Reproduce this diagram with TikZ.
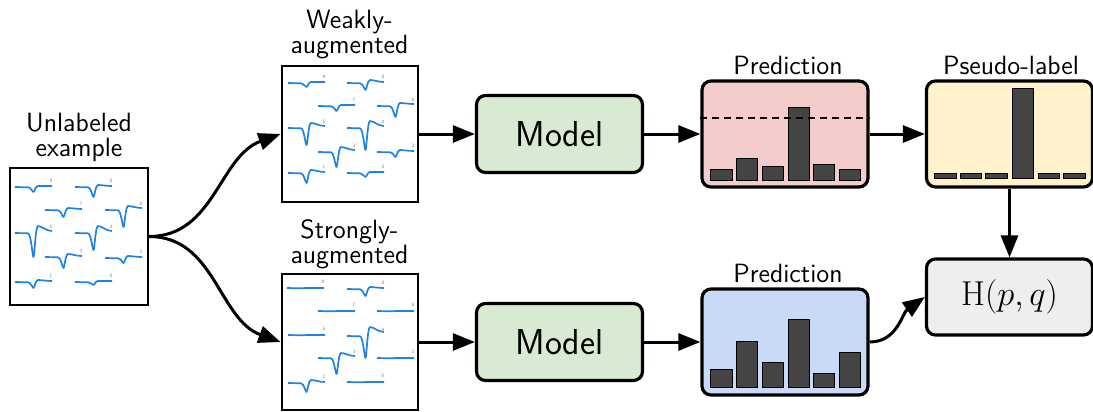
\documentclass[tikz,border=0pt]{standalone}
\usetikzlibrary{arrows.meta}
\renewcommand{\familydefault}{\sfdefault}
\definecolor{ecgblue}{RGB}{30,130,230}
\definecolor{modelgreen}{HTML}{D9EAD3}
\definecolor{predred}{HTML}{F4CCCC}
\definecolor{predblue}{HTML}{C9DAF8}
\definecolor{pseudoyellow}{HTML}{FFF2CC}
\definecolor{lossgray}{HTML}{EEEEEE}
\definecolor{bargray}{HTML}{444444}
\tikzset{
  imgbox/.style={draw=black, line width=1pt, minimum width=68pt, minimum height=68pt, inner sep=0pt},
  rbox/.style={draw=black, line width=1.6pt, rounded corners=4.5pt, minimum width=83pt, inner sep=0pt},
  modelbox/.style={rbox, fill=modelgreen, minimum height=38.5pt, font=\fontsize{18}{20}\selectfont},
  predbox/.style={rbox, minimum height=53pt},
  lossbox/.style={rbox, fill=lossgray, minimum height=38pt, font=\fontsize{19}{21}\selectfont},
  lbl/.style={align=center, inner sep=0pt, font=\fontsize{13.2}{12.5}\selectfont},
  digit/.style={inner sep=0pt, text=gray, font=\fontsize{2.5}{3}\selectfont},
  ecgline/.style={draw=ecgblue, line width=0.85pt, line join=round},
  bar/.style={draw=black, line width=0.5pt, fill=bargray},
  arr/.style={line width=1.5pt, -{Triangle[length=11pt,width=8.5pt]}},
}
\newcommand{\ecgtrace}[7]{% name, x, y, depth, overshoot, end, label
  \begin{scope}[shift={(#2,#3)}]
    \draw[ecgline] (0,0) -- (13,0.3) .. controls (16,0.5) and (17.5,#4) .. (18.5,#4)
      .. controls (19.5,#4) and (20.5,-#5) .. (23,-#5)
      .. controls (27,-#5) and (31,#6) .. (37,#6);
    \node[digit] (#1) at (36,-6) {#7};
  \end{scope}}
\begin{document}
\begin{tikzpicture}[x=0.5pt, y=-0.5pt]
\useasboundingbox (0,0) rectangle (1093,412);

% image boxes
\node[imgbox, minimum width=69pt, minimum height=68.5pt] (unl) at (79,236.5) {};
\node[imgbox] (weak) at (349.5,134) {};
\node[imgbox] (strong) at (349.5,342) {};

\node[lbl] (unllbl) at (79,137.5) {Unlabeled\\example};
\node[lbl] (weaklbl) at (349.5,34.5) {Weakly-\\augmented};
\node[lbl] (stronglbl) at (349.5,244) {Strongly-\\augmented};

% ECG traces: unlabeled
\ecgtrace{u9}{15}{187}{5}{1}{-1}{9}
\ecgtrace{u8}{75}{187}{10}{2}{-1}{8}
\ecgtrace{u7}{45}{210}{7}{2}{-1}{7}
\ecgtrace{u6}{105}{210}{17}{4}{-2}{6}
\ecgtrace{u5}{15}{233}{24}{7}{-2}{5}
\ecgtrace{u4}{75}{233}{17}{7}{-2}{4}
\ecgtrace{u3}{45}{257}{11}{3}{-1}{3}
\ecgtrace{u2}{105}{258}{5}{2}{-1}{2}
\ecgtrace{u1}{15}{282}{6}{2}{-1}{1}
\ecgtrace{u0}{75}{282}{3}{1}{-1}{0}
% weakly
\ecgtrace{w9}{288}{83}{4}{1}{-1}{9}
\ecgtrace{w8}{347}{83}{7}{3}{-1}{8}
\ecgtrace{w7}{318}{106}{5}{1}{-1}{7}
\ecgtrace{w6}{377}{106}{11}{3}{-2}{6}
\ecgtrace{w5}{288}{128}{17}{5}{-2}{5}
\ecgtrace{w4}{347}{128}{22}{7}{-2}{4}
\ecgtrace{w3}{318}{152}{15}{5}{-2}{3}
\ecgtrace{w2}{377}{152}{5}{2}{-1}{2}
\ecgtrace{w1}{288}{173}{10}{3}{-1}{1}
\ecgtrace{w0}{347}{173}{4}{1}{-1}{0}
% strongly
\ecgtrace{s9}{287}{288}{0}{0}{0}{9}
\ecgtrace{s8}{347}{289}{7}{2}{-1}{8}
\ecgtrace{s7}{318}{311}{0}{0}{0}{7}
\ecgtrace{s6}{377}{311}{0}{0}{0}{6}
\ecgtrace{s5}{288}{335}{0}{0}{0}{5}
\ecgtrace{s4}{347}{336}{22}{9}{-4}{4}
\ecgtrace{s3}{318}{358}{16}{5}{-2}{3}
\ecgtrace{s2}{377}{358}{0}{0}{0}{2}
\ecgtrace{s1}{288}{383}{9}{3}{-1}{1}
\ecgtrace{s0}{347}{382}{0}{0}{0}{0}

% models
\node[modelbox] (model1) at (559.5,134) {Model};
\node[modelbox] (model2) at (559.5,342) {Model};

% predictions
\node[predbox, fill=predred] (pred1) at (785,134) {};
\node[predbox, fill=predblue] (pred2) at (785,342) {};
\node[predbox, fill=pseudoyellow] (pseudo) at (1009.5,134) {};
\node[lbl] (pred1lbl) at (788,65) {Prediction};
\node[lbl] (pred2lbl) at (788,273) {Prediction};
\node[lbl] (pseudolbl) at (1011,65) {Pseudo-label};

% loss
\node[lossbox] (loss) at (1009.5,297) {$\mathrm{H}(p,q)$};

% bars: top prediction
\draw[bar] (710,180) rectangle (732,169);
\draw[bar] (736,180) rectangle (757,158);
\draw[bar] (762,180) rectangle (783,166);
\draw[bar] (788,180) rectangle (809,107);
\draw[bar] (813,180) rectangle (834,164);
\draw[bar] (839,180) rectangle (860,169);
\draw[line width=0.8pt, dash pattern=on 3.5pt off 2.5pt] (pred1.west |- 0,118) -- (pred1.east |- 0,118);
% bars: bottom prediction
\draw[bar] (710,387) rectangle (732,369);
\draw[bar] (736,387) rectangle (757,341);
\draw[bar] (762,387) rectangle (783,362);
\draw[bar] (788,387) rectangle (809,319);
\draw[bar] (813,387) rectangle (834,373);
\draw[bar] (839,387) rectangle (860,352);
% bars: pseudo-label
\draw[bar] (934,178) rectangle (956,173);
\draw[bar] (960,178) rectangle (981,173);
\draw[bar] (985,178) rectangle (1007,173);
\draw[bar] (1012,178) rectangle (1033,88);
\draw[bar] (1038,178) rectangle (1059,173);
\draw[bar] (1063,178) rectangle (1085,173);

% connectors
\draw[arr] (unl.east) to[out=0, in=200] (weak.west);
\draw[arr] (unl.east) to[out=0, in=160] (strong.west);
\draw[arr] (weak.east) -- (model1.west);
\draw[arr] (strong.east) -- (model2.west);
\draw[arr] (model1.east) -- (pred1.west);
\draw[arr] (model2.east) -- (pred2.west);
\draw[arr] (pred1.east) -- (pseudo.west);
\draw[arr] (pseudo.south) -- (loss.north);
\draw[arr] (pred2.east) to[out=0, in=215] (loss.west);
\end{tikzpicture}
\end{document}
